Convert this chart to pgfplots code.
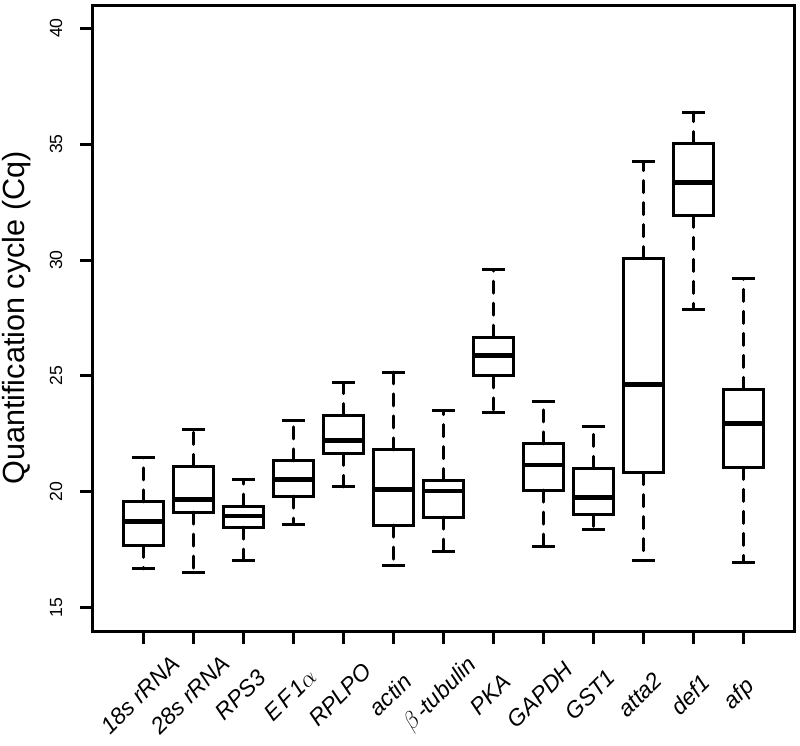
\documentclass[border=0pt]{standalone}
\usepackage{fontspec}
\setmainfont{Liberation Sans}
\usepackage{pgfplots}
\usepackage{pgfplotstable}
\pgfplotsset{compat=1.18}
\pgfplotstableread{
pos lw q1 med q3 uw
1 16.68 17.69 18.71 19.57 21.47
2 16.51 19.13 19.66 21.10 22.67
3 17.03 18.48 18.96 19.39 20.54
4 18.60 19.82 20.52 21.34 23.06
5 20.22 21.66 22.21 23.29 24.71
6 16.83 18.57 20.11 21.81 25.17
7 17.43 18.91 20.04 20.49 23.49
8 23.42 25.00 25.89 26.67 29.59
9 17.66 20.08 21.16 22.07 23.89
10 18.37 19.03 19.76 21.01 22.81
11 17.03 20.83 24.64 30.06 34.26
12 27.86 31.93 33.36 35.02 36.38
13 16.97 21.06 22.95 24.42 29.19
}\genes
\begin{document}
\begin{tikzpicture}
\path[use as bounding box] (0,0) rectangle (400pt,373pt);
\begin{axis}[
  at={(46.25pt,57.5pt)}, anchor=south west,
  scale only axis, width=350.75pt, height=313pt,
  xmin=-0.02, xmax=14.02, ymin=14, ymax=41,
  axis on top,
  axis line style={line width=1.5pt, black},
  tick align=outside, major tick length=6.4pt,
  tick style={line width=1.5pt, black},
  xtick pos=bottom, ytick pos=left,
  xtick={1,...,13},
  xticklabels={18s rRNA, 28s rRNA, RPS3, E\kern1.5pt F\kern1pt 1$\alpha$, RPLPO, actin, $\beta$\kern1.5pt-tubulin, PKA, GAPDH, GST1, atta2, def1, afp},
  xticklabel style={font=\fontsize{11.5}{11.5}\selectfont\itshape, xshift=-1.5pt, yshift=-25.5pt, rotate=45, anchor=center, inner sep=0pt},
  ytick={15,20,25,30,35,40},
  /pgf/number format/assume math mode=true,
  yticklabel style={font=\fontsize{8.8}{8.8}\selectfont, xshift=-8.5pt, rotate=90, anchor=south, inner sep=0pt},
  ylabel={Quantification cycle (Cq)},
  ylabel style={font=\fontsize{15.3}{15.3}\selectfont, at={(axis description cs:0,0.5)}, anchor=center, yshift=37.75pt},
  box/.style={draw=none, mark=none, error bars/error mark=none,
    error bars/error bar style={draw=black, solid, line width=1.5pt, line cap=rect}},
  whisk/.style={draw=none, mark=none, error bars/error mark=none,
    error bars/error bar style={draw=black, line width=1.5pt, line cap=round, dash pattern=on 6pt off 5pt}},
]
% lower whiskers (dashed), from Q1 down to the lower whisker
\addplot[whisk, error bars/y dir=minus, error bars/y explicit]
  table[x=pos, y=q1, y error expr=\thisrow{q1}-\thisrow{lw}] {\genes};
% upper whiskers (dashed), from Q3 up to the upper whisker
\addplot[whisk, error bars/y dir=plus, error bars/y explicit]
  table[x=pos, y=q3, y error expr=\thisrow{uw}-\thisrow{q3}] {\genes};
% staples
\addplot[box, error bars/x dir=both, error bars/x fixed=0.2] table[x=pos, y=lw] {\genes};
\addplot[box, error bars/x dir=both, error bars/x fixed=0.2] table[x=pos, y=uw] {\genes};
% box: bottom and top edges
\addplot[box, error bars/x dir=both, error bars/x fixed=0.4] table[x=pos, y=q1] {\genes};
\addplot[box, error bars/x dir=both, error bars/x fixed=0.4] table[x=pos, y=q3] {\genes};
% box: left and right edges
\addplot[box, error bars/y dir=plus, error bars/y explicit]
  table[x expr=\thisrow{pos}-0.4, y=q1, y error expr=\thisrow{q3}-\thisrow{q1}] {\genes};
\addplot[box, error bars/y dir=plus, error bars/y explicit]
  table[x expr=\thisrow{pos}+0.4, y=q1, y error expr=\thisrow{q3}-\thisrow{q1}] {\genes};
% medians
\addplot[draw=none, mark=none, error bars/x dir=both, error bars/x fixed=0.4, error bars/error mark=none,
    error bars/error bar style={draw=black, solid, line width=2.4pt, line cap=butt}]
  table[x=pos, y=med] {\genes};
\end{axis}
\end{tikzpicture}
\end{document}
